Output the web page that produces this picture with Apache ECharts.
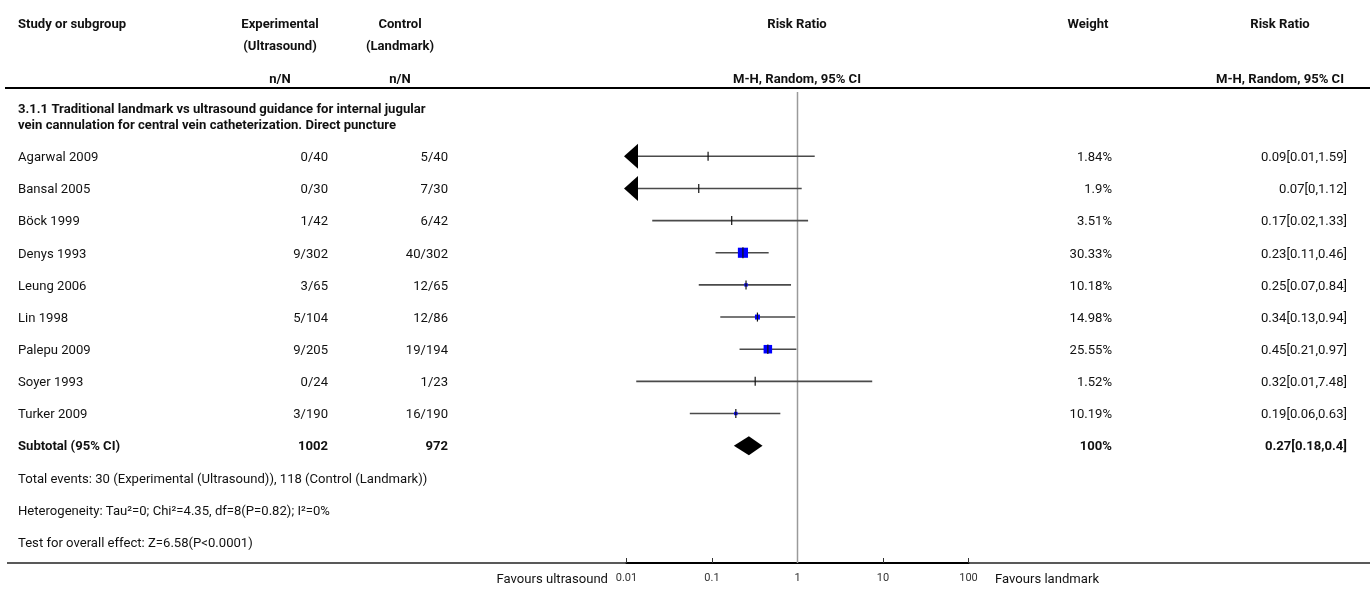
<!DOCTYPE html>
<html><head><meta charset="utf-8">
<script src="https://cdn.jsdelivr.net/npm/echarts@6/dist/echarts.min.js"></script>
<style>html,body{margin:0;padding:0;background:#fff}#c{width:1370px;height:592px}</style>
</head><body><div id="c"></div>
<script>
// ---------- data ----------
const studies = ['Agarwal 2009','Bansal 2005','Böck 1999','Denys 1993','Leung 2006','Lin 1998','Palepu 2009','Soyer 1993','Turker 2009'];
const expN = ['0/40','0/30','1/42','9/302','3/65','5/104','9/205','0/24','3/190'];
const ctlN = ['5/40','7/30','6/42','40/302','12/65','12/86','19/194','1/23','16/190'];
const rr = [0.09,0.07,0.17,0.23,0.25,0.34,0.45,0.32,0.19];
const ciLow = [0.006,0.004,0.02,0.11,0.07,0.125,0.21,0.013,0.055];
const ciHigh = [1.59,1.12,1.33,0.46,0.84,0.94,0.97,7.48,0.63];
const weights = [1.84,1.9,3.51,30.33,10.18,14.98,25.55,1.52,10.19];
const weightLabels = ['1.84%','1.9%','3.51%','30.33%','10.18%','14.98%','25.55%','1.52%','10.19%'];
const ciLabels = ['0.09[0.01,1.59]','0.07[0,1.12]','0.17[0.02,1.33]','0.23[0.11,0.46]','0.25[0.07,0.84]','0.34[0.13,0.94]','0.45[0.21,0.97]','0.32[0.01,7.48]','0.19[0.06,0.63]'];
const subtotal = {label:'Subtotal (95% CI)', exp:'1002', ctl:'972', est:0.27, low:0.18, high:0.39, weight:'100%', ci:'0.27[0.18,0.4]'};
const footnotes = ['Total events: 30 (Experimental (Ultrasound)), 118 (Control (Landmark))','Heterogeneity: Tau\u00B2=0; Chi\u00B2=4.35, df=8(P=0.82); I\u00B2=0%','Test for overall effect: Z=6.58(P<0.0001)'];
const subgroupTitle = ['3.1.1 Traditional landmark vs ultrasound guidance for internal jugular','vein cannulation for central vein catheterization. Direct puncture'];
const tickLabels = ['0.01','0.1','1','10','100'];
const tickValues = [0.01,0.1,1,10,100];
const favoursLeft = 'Favours ultrasound';
const favoursRight = 'Favours landmark';

// ---------- layout ----------
const FONT = 'Roboto, Lato, "Noto Sans", sans-serif';
const FS = 13.1;
const DY = 1.5;
const COL = {study:18, exp:328, ctl:448, weight:1112, ci:1347};
const HEAD = {exp:280, ctl:400, rr:797, weight:1088, ci:1280};

const chart = echarts.init(document.getElementById('c'), null, {renderer:'canvas'});

function txt(text, x, y, align, bold, size, color){
  return {type:'text', style:{text:text, x:x, y:y+DY, align:align||'left', verticalAlign:'middle',
    font:(bold?'bold ':'')+(size||FS)+'px '+FONT, fill:color||'#111'}};
}

const plotData = studies.map((s,i)=>[rr[i], i, ciLow[i], ciHigh[i], weights[i]]);
const tableRows = studies.map((s,i)=>({row:i, cells:[s, expN[i], ctlN[i], weightLabels[i], ciLabels[i]], bold:false}));
tableRows.push({row:9, cells:[subtotal.label, subtotal.exp, subtotal.ctl, subtotal.weight, subtotal.ci], bold:true});
footnotes.forEach((f,k)=>tableRows.push({row:10+k, cells:[f,'','','',''], bold:false}));

const XMIN = 0.01, XMAX = 100;

const option = {
  animation:false,
  backgroundColor:'#fff',
  grid:{left:626.5, right:401.5, top:92, bottom:29},
  xAxis:{type:'log', logBase:10, min:XMIN, max:XMAX,
    axisLine:{show:true, onZero:false, lineStyle:{color:'#000', width:2}},
    axisTick:{show:true, inside:true, length:5, lineStyle:{color:'#333', width:1}},
    axisLabel:{show:true, margin:10, fontSize:11, color:'#333', fontFamily:FONT,
      formatter:function(v){ const k = tickValues.findIndex(t=>Math.abs(Math.log10(t)-Math.log10(v))<1e-6); return k>=0?tickLabels[k]:''; }},
    splitLine:{show:false}},
  yAxis:{type:'value', inverse:true, min:-2, max:12.65, show:false},
  graphic:[
    {type:'group', silent:true, children:[
      txt('Study or subgroup', COL.study, 23, 'left', true),
      txt('Experimental', HEAD.exp, 23, 'center', true),
      txt('(Ultrasound)', HEAD.exp, 45, 'center', true),
      txt('n/N', HEAD.exp, 78, 'center', true),
      txt('Control', HEAD.ctl, 23, 'center', true),
      txt('(Landmark)', HEAD.ctl, 45, 'center', true),
      txt('n/N', HEAD.ctl, 78, 'center', true),
      txt('Risk Ratio', HEAD.rr, 23, 'center', true),
      txt('M-H, Random, 95% CI', HEAD.rr, 78, 'center', true),
      txt('Weight', HEAD.weight, 23, 'center', true),
      txt('Risk Ratio', HEAD.ci, 23, 'center', true),
      txt('M-H, Random, 95% CI', HEAD.ci, 78, 'center', true),
      {type:'line', shape:{x1:5, y1:88, x2:1370, y2:88}, style:{stroke:'#000', lineWidth:2}},
      txt(subgroupTitle[0], COL.study, 108, 'left', true),
      txt(subgroupTitle[1], COL.study, 124, 'left', true),
      {type:'line', shape:{x1:7, y1:563, x2:1370, y2:563}, style:{stroke:'#222', lineWidth:1.5}},
      txt(favoursLeft, 608, 578, 'right', false),
      txt(favoursRight, 995, 578, 'left', false)
    ]}
  ],
  series:[
    { // line of no effect
      type:'line', data:[[1,-2],[1,12.65]], symbol:'none', silent:true,
      lineStyle:{color:'#9a9a9a', width:1.5}, z:1
    },
    { // study estimates
      type:'custom', clip:false, z:3, data:plotData,
      renderItem:function(params, api){
        const est = api.value(0), row = api.value(1), lo = api.value(2), hi = api.value(3), w = api.value(4);
        const c = api.coord([est,row]);
        const arrowL = lo < XMIN;
        const pL = api.coord([Math.max(lo,XMIN), row]);
        const pR = api.coord([Math.min(hi,XMAX), row]);
        const y = c[1];
        const children = [];
        let x1 = pL[0], x2 = pR[0];
        if (arrowL){
          const tip = pL[0]-2.5;
          children.push({type:'polygon', shape:{points:[[tip,y],[tip+14,y-12.5],[tip+14,y+12.5]]}, style:{fill:'#000'}});
          x1 = tip+14;
        }
        children.push({type:'line', shape:{x1:x1, y1:y, x2:x2, y2:y}, style:{stroke:'#4a4a4a', lineWidth:1.6}});
        const side = w/3;
        if (side > 1.6) children.push({type:'rect', shape:{x:c[0]-side/2, y:y-side/2, width:side, height:side}, style:{fill:'#0000ff'}});
        const th = Math.max(9, side+1);
        children.push({type:'line', shape:{x1:c[0], y1:y-th/2, x2:c[0], y2:y+th/2}, style:{stroke:'#111', lineWidth:1.2}});
        return {type:'group', children:children};
      }
    },
    { // pooled diamond
      type:'custom', clip:false, z:3, data:[[subtotal.est, 9, subtotal.low, subtotal.high]],
      renderItem:function(params, api){
        const row = api.value(1);
        const c = api.coord([api.value(0), row]);
        const l = api.coord([api.value(2), row]);
        const r = api.coord([api.value(3), row]);
        const h = 9.5;
        return {type:'polygon', shape:{points:[[l[0],c[1]],[c[0],c[1]-h],[r[0],c[1]],[c[0],c[1]+h]]}, style:{fill:'#000'}};
      }
    },
    { // table text
      type:'custom', clip:false, z:4, silent:true,
      data:tableRows.map(t=>[1, t.row]),
      renderItem:function(params, api){
        const t = tableRows[params.dataIndex];
        const y = api.coord([1, api.value(1)])[1];
        const b = t.bold;
        return {type:'group', children:[
          txt(t.cells[0], COL.study, y, 'left', b),
          txt(t.cells[1], COL.exp, y, 'right', b),
          txt(t.cells[2], COL.ctl, y, 'right', b),
          txt(t.cells[3], COL.weight, y, 'right', b),
          txt(t.cells[4], COL.ci, y, 'right', b)
        ]};
      }
    }
  ]
};
chart.setOption(option);
</script>
</body></html>
